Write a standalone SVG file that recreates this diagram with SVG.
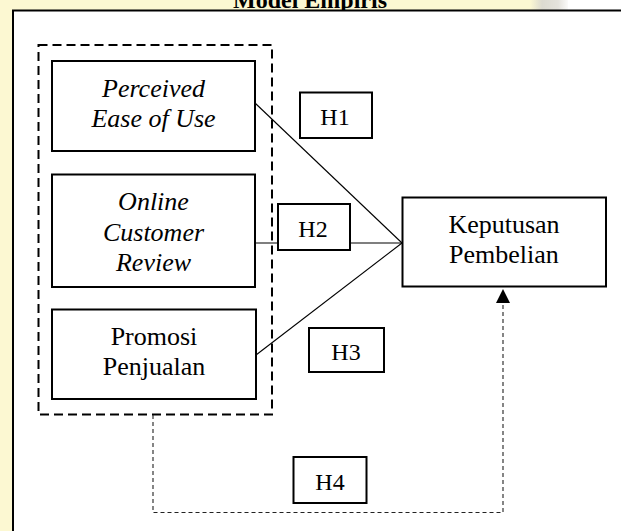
<svg xmlns="http://www.w3.org/2000/svg" width="621" height="531" viewBox="0 0 621 531">
  <defs>
    <style>
      .box { fill: #ffffff; stroke: #000; stroke-width: 2; }
      .grp { fill: none; stroke: #000; stroke-width: 2; stroke-dasharray: 9 5; }
      .ln { stroke: #000; stroke-width: 1.1; fill: none; }
      .dl { stroke: #222; stroke-width: 1.1; fill: none; stroke-dasharray: 4 3; }
      .t { font-family: "Liberation Serif", "Times New Roman", serif; font-size: 26px; fill: #000; text-anchor: middle; }
      .it { font-style: italic; }
      .h { font-family: "Liberation Serif", "Times New Roman", serif; font-size: 24px; fill: #000; text-anchor: middle; }
      .title { font-family: "Liberation Serif", "Times New Roman", serif; font-size: 24px; font-weight: bold; fill: #000; text-anchor: middle; }
    </style>
    <linearGradient id="wm" x1="0" y1="0" x2="1" y2="0">
      <stop offset="0" stop-color="#fcf8d2"/>
      <stop offset="0.3" stop-color="#dcdad0"/>
      <stop offset="0.7" stop-color="#e4e2dc"/>
      <stop offset="1" stop-color="#ffffff"/>
    </linearGradient>
  </defs>

  <!-- background -->
  <rect x="0" y="0" width="621" height="531" fill="#fcf8d2"/>
  <rect x="530" y="0" width="40" height="10" fill="url(#wm)"/>
  <rect x="568" y="0" width="53" height="10" fill="#ffffff"/>

  <text class="title" x="310" y="8">Model Empiris</text>

  <!-- frame -->
  <rect x="13" y="10.5" width="700" height="600" fill="#ffffff" stroke="#000" stroke-width="2"/>

  <!-- dashed grouping -->
  <g id="group-independent">
    <rect class="grp" x="38.5" y="45" width="233.5" height="369.5"/>
  </g>

  <!-- connectors -->
  <g id="connectors">
    <line class="ln" x1="255" y1="103" x2="402" y2="243"/>
    <line class="ln" x1="255" y1="243" x2="402" y2="243"/>
    <line class="ln" x1="256" y1="355" x2="402" y2="243"/>
    <polyline class="dl" points="153,415 153,512.5 503,512.5 503,303"/>
    <path d="M503,289 L496,303 L510,303 Z" fill="#000"/>
  </g>

  <g id="node-peou">
    <rect class="box" x="52" y="61" width="203" height="90"/>
    <text class="t it" x="153.5" y="96.5">Perceived</text>
    <text class="t it" x="153.5" y="127">Ease of Use</text>
  </g>

  <g id="node-ocr">
    <rect class="box" x="52" y="174.5" width="203" height="112.5"/>
    <text class="t it" x="153.5" y="210">Online</text>
    <text class="t it" x="153.5" y="240.5">Customer</text>
    <text class="t it" x="153.5" y="270.5">Review</text>
  </g>

  <g id="node-promosi">
    <rect class="box" x="52" y="309.5" width="204" height="89.5"/>
    <text class="t" x="154" y="345">Promosi</text>
    <text class="t" x="154" y="375">Penjualan</text>
  </g>

  <g id="node-keputusan">
    <rect class="box" x="402.5" y="197.5" width="203.5" height="89"/>
    <text class="t" x="504" y="233">Keputusan</text>
    <text class="t" x="504" y="263">Pembelian</text>
  </g>

  <g id="node-h1">
    <rect class="box" x="300" y="92.5" width="72" height="45.5"/>
    <text class="h" x="335" y="125">H1</text>
  </g>

  <g id="node-h2">
    <rect class="box" x="278" y="204" width="72" height="46"/>
    <text class="h" x="313" y="236.5">H2</text>
  </g>

  <g id="node-h3">
    <rect class="box" x="309" y="328" width="75" height="44"/>
    <text class="h" x="346" y="360">H3</text>
  </g>

  <g id="node-h4">
    <rect class="box" x="293.5" y="457" width="73" height="46"/>
    <text class="h" x="330" y="490">H4</text>
  </g>
</svg>
